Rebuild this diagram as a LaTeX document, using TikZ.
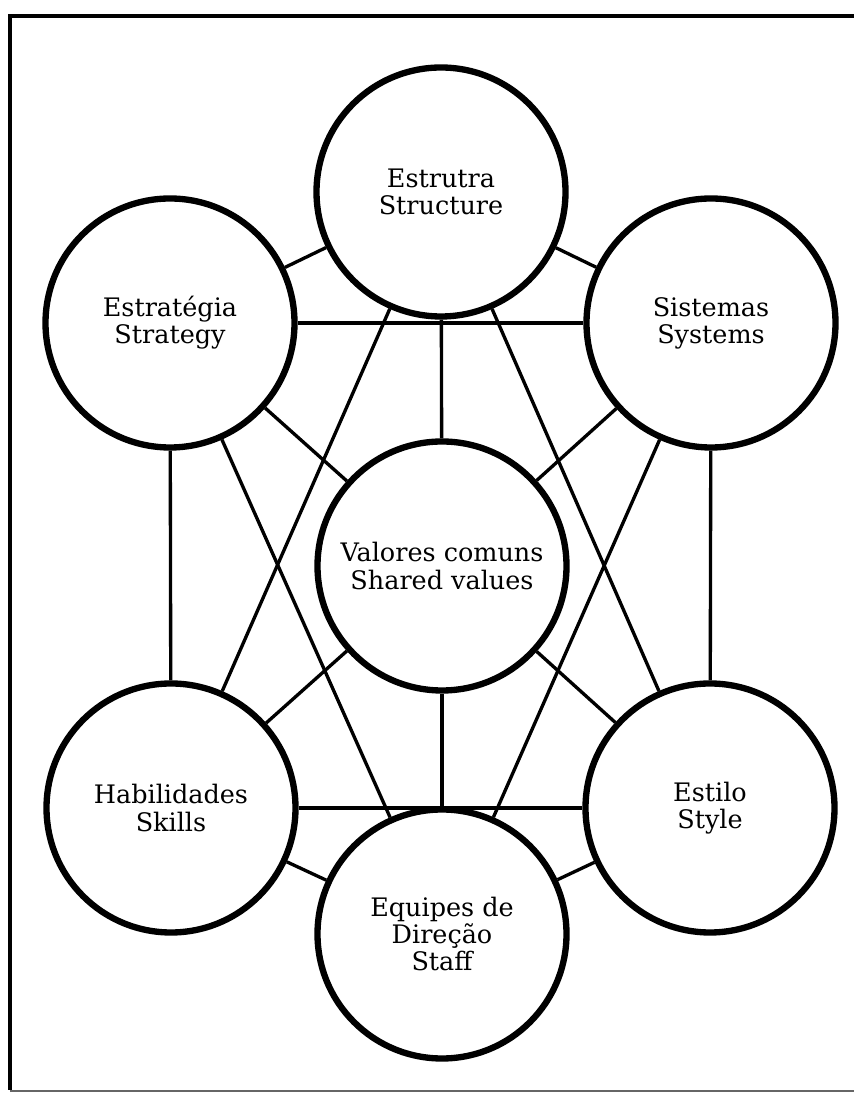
\documentclass[tikz,border=0pt]{standalone}
\usepackage{fontspec}
\setmainfont{DejaVu Serif}
\usepackage{tikz}
\usetikzlibrary{shapes.geometric,positioning,calc}
\tikzstyle{bulle}=[circle, draw, line width=3.6pt, minimum size=4.98cm, inner sep=0pt, align=center, font=\fontsize{14.5}{15.4}\selectfont]
\tikzstyle{lien}=[-, line width=1.9pt]
\tikzstyle{cadre}=[-, line width=2.2pt]

\begin{document}
\begin{tikzpicture}

\useasboundingbox (0,0) rectangle (17.08,21.88);

% cadre
\draw[cadre] (0.2,0.08) -- (0.2,21.56) -- (17.08,21.56);
\draw[-, line width=1pt, black!60] (0.2,0.06) -- (17.08,0.06);

% cercles
\node[bulle] (estrutura) at (8.82,18.04) {Estrutra\\Structure};
\node[bulle] (estrategia) at (3.40,15.42) {Estratégia\\Strategy};
\node[bulle] (sistemas) at (14.22,15.42) {Sistemas\\Systems};
\node[bulle] (valores) at (8.84,10.56) {Valores comuns\\Shared values};
\node[bulle] (habilidades) at (3.42,5.72) {Habilidades\\Skills};
\node[bulle] (estilo) at (14.20,5.72) {Estilo\\Style};
\node[bulle] (equipes) at (8.84,3.20) {Equipes de\\Direção\\Staff};

% contour
\draw[lien] (estrategia) -- (estrutura);
\draw[lien] (estrutura) -- (sistemas);
\draw[lien] (sistemas) -- (estilo);
\draw[lien] (estilo) -- (equipes);
\draw[lien] (equipes) -- (habilidades);
\draw[lien] (habilidades) -- (estrategia);

% centre
\foreach \n in {estrutura,estrategia,sistemas,habilidades,estilo,equipes}
    \draw[lien] (valores) -- (\n);

% diagonales
\draw[lien] (estrategia) -- (sistemas);
\draw[lien] (habilidades) -- (estilo);
\draw[lien] (estrutura) -- (habilidades);
\draw[lien] (estrutura) -- (estilo);
\draw[lien] (estrategia) -- (equipes);
\draw[lien] (sistemas) -- (equipes);

\end{tikzpicture}
\end{document}
